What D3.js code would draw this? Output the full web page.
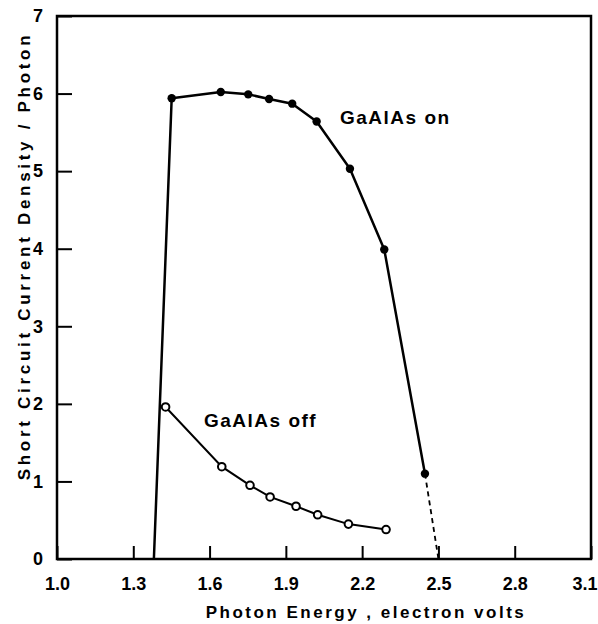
<!DOCTYPE html>
<html><head><meta charset="utf-8">
<script src="https://cdn.jsdelivr.net/npm/d3@7"></script>
<style>
html,body{margin:0;padding:0;background:#fff;}
text{font-family:"Liberation Sans",Arial,sans-serif;font-weight:bold;fill:#000;}
</style></head>
<body>
<svg id="c" width="598" height="624"></svg>
<script>
// Data
const xTicks = [1.0, 1.3, 1.6, 1.9, 2.2, 2.5, 2.8, 3.1];
const xTickLabels = ["1.0", "1.3", "1.6", "1.9", "2.2", "2.5", "2.8", "3.1"];
const yTicks = [0, 1, 2, 3, 4, 5, 6, 7];
const onX = [1.451, 1.644, 1.752, 1.834, 1.925, 2.021, 2.152, 2.287, 2.447];
const onY = [5.94, 6.02, 5.99, 5.93, 5.87, 5.64, 5.03, 3.99, 1.10];
const onStart = [1.381, 0];      // rising edge start (no marker)
const onExtrapEnd = [2.50, 0];   // dashed extrapolation end
const offX = [1.427, 1.648, 1.759, 1.838, 1.940, 2.025, 2.146, 2.294];
const offY = [1.96, 1.19, 0.95, 0.80, 0.68, 0.57, 0.45, 0.38];
const labels = ["GaAlAs on", "GaAlAs off"];
const xTitle = "Photon Energy , electron volts";
const yTitle = "Short Circuit Current Density / Photon";

const L = 57, R = 591, T = 16, B = 559;
const svg = d3.select("#c");
const x = d3.scaleLinear().domain([1.0, 3.1]).range([L, R]);
const y = d3.scaleLinear().domain([0, 7]).range([B, T]);

// frame
svg.append("rect").attr("x", L).attr("y", T).attr("width", R - L).attr("height", B - T)
  .attr("fill", "none").attr("stroke", "#000").attr("stroke-width", 2.5);

// x axis (inward ticks)
const gx = svg.append("g").attr("transform", `translate(0,${B})`)
  .call(d3.axisBottom(x).tickValues(xTicks).tickSizeInner(-13).tickSizeOuter(0)
    .tickFormat((d, i) => xTickLabels[i]));
gx.select(".domain").remove();
gx.selectAll(".tick line").attr("stroke", "#000").attr("stroke-width", 2);
gx.selectAll(".tick text").attr("font-size", 18).attr("dy", 0).attr("y", 31);
gx.selectAll(".tick text").filter((d, i) => i === xTicks.length - 1)
  .attr("text-anchor", "end").attr("x", 598 - R - 1);

// y axis (inward ticks)
const gy = svg.append("g").attr("transform", `translate(${L},0)`)
  .call(d3.axisLeft(y).tickValues(yTicks).tickSizeInner(-15).tickSizeOuter(0)
    .tickFormat(d3.format("d")));
gy.select(".domain").remove();
gy.selectAll(".tick line").attr("stroke", "#000").attr("stroke-width", 2);
gy.selectAll(".tick text").attr("font-size", 18).attr("x", -14);

const line = d3.line().x(d => x(d[0])).y(d => y(d[1]));

// GaAlAs on
const onPts = [onStart].concat(onX.map((v, i) => [v, onY[i]]));
svg.append("path").datum(onPts).attr("d", line).attr("fill", "none")
  .attr("stroke", "#000").attr("stroke-width", 2.5).attr("stroke-linejoin", "round");
svg.append("path").datum([[onX[onX.length - 1], onY[onY.length - 1]], onExtrapEnd]).attr("d", line)
  .attr("fill", "none").attr("stroke", "#000").attr("stroke-width", 1.8).attr("stroke-dasharray", "5,4");
svg.selectAll(".on").data(onX).enter().append("circle")
  .attr("cx", d => x(d)).attr("cy", (d, i) => y(onY[i])).attr("r", 4.2).attr("fill", "#000");

// GaAlAs off
const offPts = offX.map((v, i) => [v, offY[i]]);
svg.append("path").datum(offPts).attr("d", line).attr("fill", "none")
  .attr("stroke", "#000").attr("stroke-width", 2);
svg.selectAll(".off").data(offX).enter().append("circle")
  .attr("cx", d => x(d)).attr("cy", (d, i) => y(offY[i])).attr("r", 3.8)
  .attr("fill", "#fff").attr("stroke", "#000").attr("stroke-width", 2);

// series labels
svg.append("text").attr("x", 340).attr("y", 124).attr("font-size", 19)
  .attr("letter-spacing", 1.5).text(labels[0]);
svg.append("text").attr("x", 204).attr("y", 427).attr("font-size", 19)
  .attr("letter-spacing", 1.5).text(labels[1]);

// axis titles
svg.append("text").attr("x", 366).attr("y", 618).attr("text-anchor", "middle")
  .attr("font-size", 17).attr("letter-spacing", 2.5).text(xTitle);
svg.append("text").attr("transform", "translate(30,256) rotate(-90)").attr("text-anchor", "middle")
  .attr("font-size", 17).attr("letter-spacing", 3.7).text(yTitle);
</script>
</body></html>
